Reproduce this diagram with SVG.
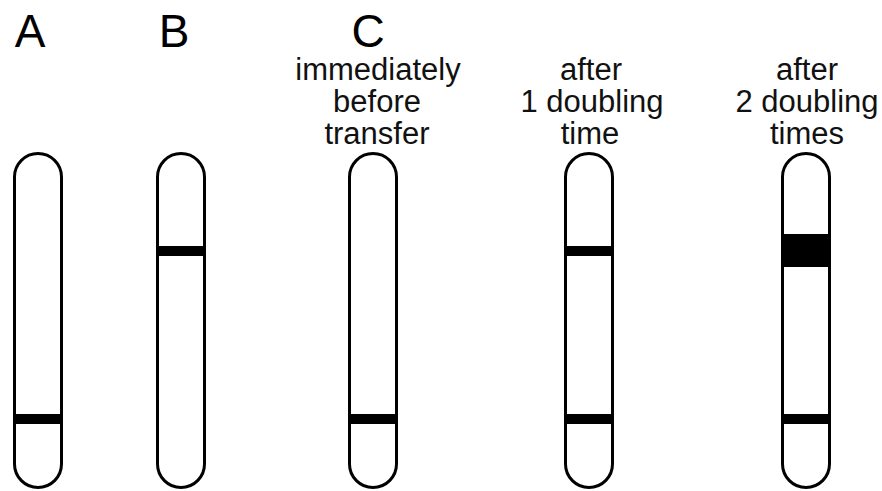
<svg xmlns="http://www.w3.org/2000/svg" width="882" height="491" viewBox="0 0 882 491">
  <style>
    .letter { font-family: "Liberation Sans", Arial, sans-serif; font-size: 46px; fill: #000; text-anchor: middle; }
    .caption { font-family: "Liberation Sans", Arial, sans-serif; font-size: 31px; fill: #111; text-anchor: middle; }
    .tube { fill: #fff; stroke: #000; stroke-width: 3; }
    .band { fill: #000; }
  </style>
  <rect width="882" height="491" fill="#fff"/>

  <!-- Tube A -->
  <g id="tubeA">
    <text class="letter" x="30" y="47">A</text>
    <rect class="tube" x="14.5" y="153.5" width="47" height="334" rx="23.5" ry="23.5"/>
    <rect class="band" x="14.5" y="414" width="47" height="10"/>
  </g>

  <!-- Tube B -->
  <g id="tubeB">
    <text class="letter" x="174" y="47">B</text>
    <rect class="tube" x="157.5" y="153.5" width="47" height="334" rx="23.5" ry="23.5"/>
    <rect class="band" x="157.5" y="246" width="47" height="10"/>
  </g>

  <!-- Tube C: immediately before transfer -->
  <g id="tubeC">
    <text class="letter" x="368" y="47">C</text>
    <text class="caption" x="378" y="80">immediately</text>
    <text class="caption" x="377" y="112">before</text>
    <text class="caption" x="377" y="144">transfer</text>
    <rect class="tube" x="349.5" y="153.5" width="47" height="334" rx="23.5" ry="23.5"/>
    <rect class="band" x="349.5" y="414" width="47" height="10"/>
  </g>

  <!-- Tube after 1 doubling time -->
  <g id="tubeD">
    <text class="caption" x="591" y="80">after</text>
    <text class="caption" x="592" y="112">1 doubling</text>
    <text class="caption" x="590" y="144">time</text>
    <rect class="tube" x="565.5" y="153.5" width="47" height="334" rx="23.5" ry="23.5"/>
    <rect class="band" x="565.5" y="246" width="47" height="10"/>
    <rect class="band" x="565.5" y="414" width="47" height="10"/>
  </g>

  <!-- Tube after 2 doubling times -->
  <g id="tubeE">
    <text class="caption" x="807" y="80">after</text>
    <text class="caption" x="807" y="112">2 doubling</text>
    <text class="caption" x="807" y="144">times</text>
    <rect class="tube" x="782.5" y="153.5" width="47" height="334" rx="23.5" ry="23.5"/>
    <rect class="band" x="782.5" y="234" width="47" height="33"/>
    <rect class="band" x="782.5" y="414" width="47" height="10"/>
  </g>

  <g id="connectors"></g>
</svg>
